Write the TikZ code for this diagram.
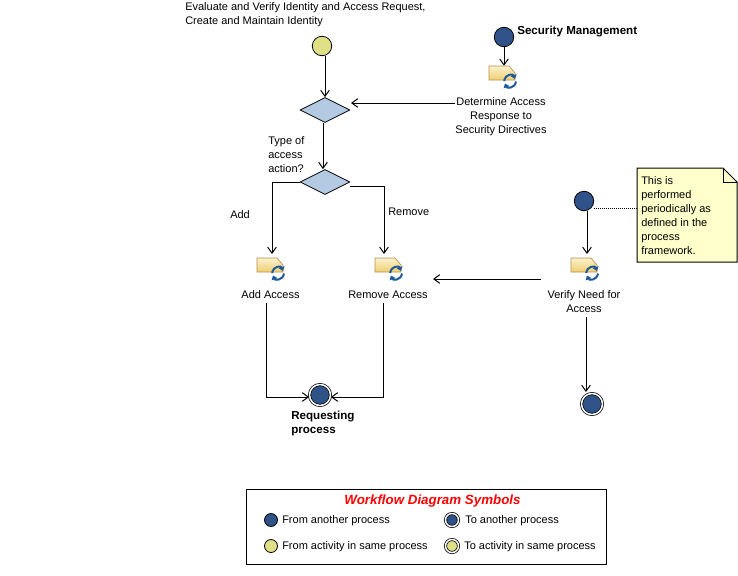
\documentclass[tikz,border=0pt]{standalone}
\usepackage{fontspec}
\setmainfont{Liberation Sans}
\usetikzlibrary{arrows.meta,shapes.geometric,calc}
\definecolor{procblue}{HTML}{2F5288}
\definecolor{sameyellow}{HTML}{DFDF86}
\definecolor{diamondblue}{HTML}{B4C9E2}
\definecolor{notefill}{HTML}{FFFFCC}
\definecolor{iconblue}{HTML}{1F5A9C}
\definecolor{tagtop}{HTML}{FBF1CC}
\definecolor{tagbot}{HTML}{EFCF72}
\definecolor{tagline}{HTML}{B8924A}
\def\px{0.75pt}
\tikzset{
  every node/.style={font=\fontsize{8.25}{10.5}\selectfont,inner sep=0pt,text=black},
  conn/.style={draw=black,line width=\px,-{Straight Barb[length=4.5pt,width=6.5pt,line width=\px]}},
  plainconn/.style={draw=black,line width=\px},
  dotconn/.style={draw=black,line width=\px,dash pattern=on 0.75pt off 0.75pt},
  fromproc/.style={circle,draw=black,line width=0.6pt,fill=procblue,minimum size=19.5*\px},
  fromsame/.style={circle,draw=black,line width=0.6pt,fill=sameyellow,minimum size=19.5*\px},
  toproc/.style={circle,draw=black,line width=0.55pt,double=white,double distance=1.5*\px,fill=procblue,minimum size=21*\px},
  tosame/.style={circle,draw=black,line width=0.55pt,double=white,double distance=1.5*\px,fill=sameyellow,minimum size=21*\px},
  decide/.style={diamond,aspect=2,draw=black,line width=0.6pt,fill=diamondblue,minimum width=50*\px,minimum height=25*\px},
  lbl/.style={anchor=west,align=left},
  clbl/.style={align=center},
  boldtxt/.style={font=\fontsize{8.7}{10.5}\selectfont\bfseries},
  actbox/.style={minimum width=30*\px,minimum height=22*\px},
  acticon/.pic={
    \shade[top color=tagtop,bottom color=tagbot,draw=tagline,line width=0.5pt]
      (-15,-11) -- (5,-11) -- (11,-4) -- (11,3) -- (-15,3) -- cycle;
    \draw[iconblue,line width=1.5pt,-{Triangle[length=3pt,width=4.5pt]}] (0.2,4) .. controls (1,-3) and (9,-3.5) .. (11,2);
    \draw[iconblue,line width=1.5pt,-{Triangle[length=3pt,width=4.5pt]}] (12,4.5) .. controls (11,11.5) and (3,11.5) .. (1,6.5);
    \node[actbox] (-box) at (0,0) {};
  },
}
\begin{document}
\begin{tikzpicture}[x=0.75pt,y=-0.75pt]
\useasboundingbox (0,0) rectangle (738,575);
\fill[white] (0,0) rectangle (738,575);

% texts
\node[lbl] (tevaluate) at (185,15) {Evaluate and Verify Identity and Access Request,\\Create and Maintain Identity};
\node[lbl,boldtxt] (tsecurity) at (517,32) {Security Management};
\node[clbl] (tdetermine) at (501,117) {Determine Access\\Response to\\Security Directives};
\node[lbl] (ttype) at (268,155) {Type of\\access\\action?};
\node[lbl] (tadd) at (230,215) {Add};
\node[lbl] (tremove) at (388,212) {Remove};
\node[clbl] (taddacc) at (270.5,295) {Add Access};
\node[clbl] (tremacc) at (388,295) {Remove Access};
\node[clbl] (tverify) at (584,302) {Verify Need for\\Access};
\node[lbl,boldtxt] (treq) at (291,423) {Requesting\\process};

% flow nodes
\node[fromsame] (start) at (322,46) {};
\node[fromproc] (secstart) at (504,37) {};
\node[fromproc] (verstart) at (584,201) {};
\node[decide] (dfirst) at (325,110) {};
\node[decide] (dsecond) at (325,182) {};
\path pic (icdet) at (504,77) {acticon};
\path pic (icadd) at (272,269) {acticon};
\path pic (icrem) at (390,269) {acticon};
\path pic (icver) at (586,269) {acticon};
\node[toproc] (endreq) at (320,395) {};
\node[toproc] (endver) at (592,404) {};

% note
\path[draw=black,line width=\px,fill=notefill] (637,168) -- (723,168) -- (737,182) -- (737,262) -- (637,262) -- cycle;
\draw[black,line width=0.6pt] (723,168) -- (723,182) -- (737,182);
\node[inner sep=0pt,minimum width=100*\px,minimum height=94*\px] (notebox) at (687,215) {};
\node[lbl] (notetext) at (641,216) {This is\\performed\\periodically as\\defined in the\\process\\framework.};

% connectors
\draw[conn] (dfirst.north |- start.south) -- (dfirst.north);
\draw[conn] (secstart.south) -- (secstart.south |- icdet-box.north);
\draw[conn] (tdetermine.west |- 0,103) -- (351,103);
\draw[conn] ([xshift=-2*\px]dfirst.south) -- ([xshift=-2*\px]dsecond.north);
\draw[conn] (dsecond.west) -- (272,182) -- (272,254);
\draw[conn] (dsecond.east |- 0,186) -- (384,186) -- (384,254);
\draw[conn] (541,279) -- (433,279);
\draw[conn] (verstart.south -| 587,0) -- (587,254);
\draw[dotconn] (verstart.east |- 0,208) -- (notebox.west |- 0,208);
\draw[conn] (266,303) -- (266,397) -- (endreq.west |- 0,397);
\draw[conn] (383,303) -- (383,397) -- (endreq.east |- 0,397);
\draw[conn] (586,317) -- (586,392);

% legend
\node[draw=black,line width=\px,minimum width=360*\px,minimum height=75*\px] (legend) at (426,526.5) {};
\node[clbl,text=red] (legtitle) at (432.5,501.5) {\fontsize{10}{12}\selectfont\bfseries\itshape Workflow Diagram Symbols};
\node[fromproc,minimum size=13*\px] (legfp) at (271,520) {};
\node[lbl] (legfpt) at (282,521) {From another process};
\node[toproc,minimum size=13*\px] (legtp) at (452,520) {};
\node[lbl] (legtpt) at (465,521) {To another process};
\node[fromsame,minimum size=13*\px] (legfs) at (271,546) {};
\node[lbl] (legfst) at (282,547) {From activity in same process};
\node[tosame,minimum size=13*\px] (legts) at (452,546) {};
\node[lbl] (legtst) at (464,547) {To activity in same process};
\end{tikzpicture}
\end{document}
